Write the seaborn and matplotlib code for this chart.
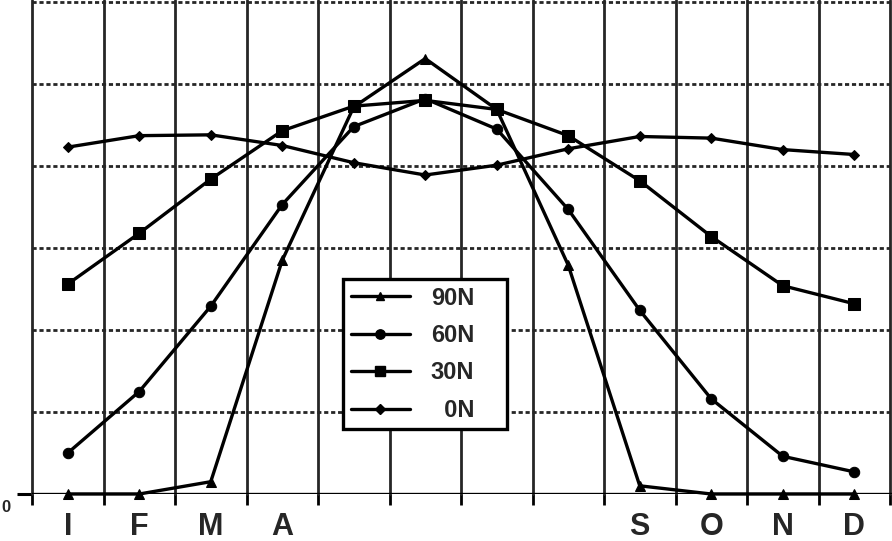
import matplotlib
matplotlib.use("Agg")
import matplotlib.pyplot as plt
import seaborn as sns
import numpy as np
import pandas as pd
from matplotlib.lines import Line2D
from matplotlib.transforms import ScaledTranslation

# ---- data ----
month_labels = ['I', 'F', 'M', 'A', '', '', '', '', 'S', 'O', 'N', 'D']
series_names = ['90N', '60N', '30N', '0N']
lat90 = [0.0, 0.0, 0.15, 2.85, 4.72, 5.31, 4.69, 2.79, 0.10, 0.0, 0.0, 0.0]
lat60 = [0.50, 1.25, 2.29, 3.53, 4.48, 4.82, 4.45, 3.47, 2.24, 1.16, 0.46, 0.27]
lat30 = [2.56, 3.18, 3.84, 4.43, 4.73, 4.80, 4.69, 4.37, 3.82, 3.14, 2.54, 2.32]
lat0 = [4.23, 4.37, 4.38, 4.25, 4.04, 3.89, 4.01, 4.21, 4.36, 4.34, 4.20, 4.14]
y_tick_values = [0]
y_tick_labels = ['0']

values = {'90N': lat90, '60N': lat60, '30N': lat30, '0N': lat0}
markers = {'90N': '^', '60N': 'o', '30N': 's', '0N': 'D'}
msizes = {'90N': 7, '60N': 7.5, '30N': 8, '0N': 5.5}

rows = []
for name in series_names:
    for i, v in enumerate(values[name]):
        rows.append({'month': i, 'value': v, 'lat': name})
df = pd.DataFrame(rows)

sns.set_theme(style="white")
plt.rcParams['font.family'] = ['Liberation Sans', 'DejaVu Sans']

fig = plt.figure(figsize=(8.92, 5.41), dpi=100)
W, H = 892, 541
x_left_px, y_zero_px = 32, 494
ax = fig.add_axes([x_left_px / W, 1 - y_zero_px / H, 1 - x_left_px / W, y_zero_px / H])

n = len(month_labels)
ax.set_xlim(-0.5, n - 0.5 + 2 / 71.5)
ax.set_ylim(0, 6 + 2 / 82)

# grid
grid_col = '#262626'
for xb in np.arange(-0.5, n, 1.0):
    ax.axvline(xb, color=grid_col, lw=2.0, zorder=1)
for yv in range(1, 7):
    ax.axhline(yv, color=grid_col, lw=2.0, ls=(0, (1.5, 1)), zorder=1)

for name in series_names:
    sub = df[df['lat'] == name]
    sns.lineplot(data=sub, x='month', y='value', ax=ax, color='black',
                 marker=markers[name], markersize=msizes[name],
                 markeredgecolor='black', linewidth=2.4, legend=False,
                 zorder=3)
for ln in ax.lines:
    ln.set_clip_on(False)

ax.axhline(0, color='black', lw=2.4, zorder=2)
ax.set_xlabel('')
ax.set_ylabel('')

for s in ['top', 'right', 'left', 'bottom']:
    ax.spines[s].set_visible(False)

# x ticks: major at boundaries (marks), minor at centres (labels)
ax.set_xticks(np.arange(-0.5, n, 1.0))
ax.set_xticklabels([])
ax.tick_params(axis='x', which='major', direction='out', length=8, width=2.0,
               color='black', bottom=True)
ax.set_xticks(np.arange(n), minor=True)
ax.set_xticklabels(month_labels, minor=True, fontsize=22, fontweight='bold')
ax.tick_params(axis='x', which='minor', length=0, pad=13)

ax.set_yticks(y_tick_values)
ax.set_yticklabels(y_tick_labels)
ax.tick_params(axis='y', direction='out', length=11, width=2.2, color='black',
               left=True, pad=4.5, labelsize=12)
for lbl in ax.get_yticklabels():
    lbl.set_fontweight('bold')
    lbl.set_transform(lbl.get_transform() + ScaledTranslation(0, -12 / 100, fig.dpi_scale_trans))

handles = [Line2D([0], [0], color='black', lw=2.4, marker=markers[nm],
                  markersize=msizes[nm] * 0.9) for nm in series_names]
labels = ['90N', '60N', '30N', '  0N']
leg = ax.legend(handles, labels, loc='upper left', mode='expand',
                bbox_to_anchor=(343 / W, 1 - 430 / H, 164 / W, 151 / H),
                bbox_transform=fig.transFigure,
                frameon=True, fancybox=False, edgecolor='black', framealpha=1,
                prop={'family': 'Liberation Sans', 'size': 17, 'weight': 'bold'},
                handlelength=2.5, handletextpad=0.9, labelspacing=0.61,
                borderpad=0.32, borderaxespad=0)
leg.get_frame().set_linewidth(2.4)
leg.set_zorder(10)

fig.savefig('out.png', dpi=100, facecolor='white')
